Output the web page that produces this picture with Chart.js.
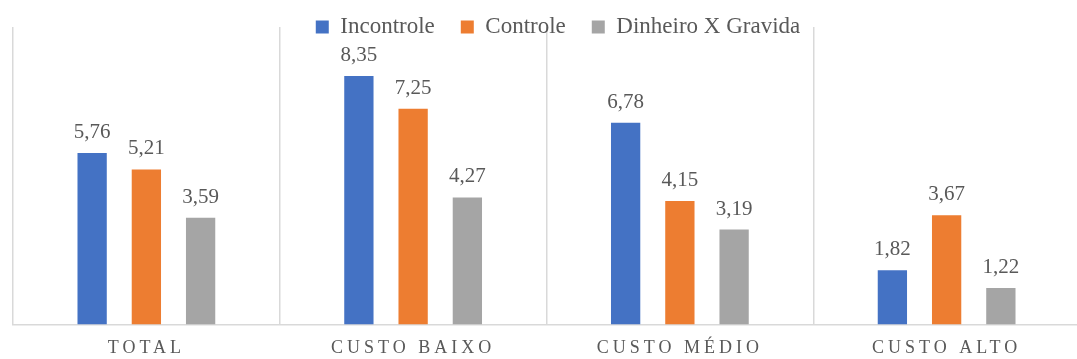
<!DOCTYPE html>
<html><head><meta charset="utf-8">
<script src="https://cdn.jsdelivr.net/npm/chart.js@4/dist/chart.umd.min.js"></script>
<style>
html,body{margin:0;padding:0;background:#fff;overflow:hidden;width:1077px;height:359px}
#wrap{position:absolute;left:0;top:0;width:1103px;height:359px}
</style></head>
<body><div id="wrap"><canvas id="c" width="1103" height="359"></canvas></div>
<script>
const categories = ['TOTAL', 'CUSTO BAIXO', 'CUSTO MÉDIO', 'CUSTO ALTO'];
const seriesNames = ['Incontrole', 'Controle', 'Dinheiro X Gravida'];
const incontrole = [5.76, 8.35, 6.78, 1.82];
const controle = [5.21, 7.25, 4.15, 3.67];
const dinheiroXGravida = [3.59, 4.27, 3.19, 1.22];
const yRange = [0, 10];

const FONT = '"Liberation Serif", "Times New Roman", serif';
const TEXT = '#595959';
const GRID = '#d9d9d9';

const valueLabels = {
  id: 'valueLabels',
  afterDatasetsDraw(chart) {
    const ctx = chart.ctx;
    ctx.save();
    ctx.font = '21px ' + FONT;
    ctx.fillStyle = TEXT;
    ctx.textAlign = 'center';
    ctx.textBaseline = 'alphabetic';
    chart.data.datasets.forEach((ds, i) => {
      chart.getDatasetMeta(i).data.forEach((bar, j) => {
        ctx.fillText(ds.data[j].toFixed(2).replace('.', ','), bar.x, bar.y - 15);
      });
    });
    ctx.restore();
  }
};

const tweaks = {
  id: 'tweaks',
  beforeDraw(chart) {
    const s = chart.scales.x;
    if (s && !s._spaced) {
      const orig = s.drawLabels.bind(s);
      s.drawLabels = function (ca) {
        const c = chart.ctx;
        c.save();
        c.letterSpacing = '4px';
        orig(ca);
        c.restore();
      };
      s._spaced = true;
    }
    const lg = chart.legend;
    if (lg && !lg._noclip) {
      lg.draw = function () { if (this.options.display) this._draw(); };
      lg._noclip = true;
    }
  }
};

new Chart(document.getElementById('c'), {
  type: 'bar',
  data: {
    labels: categories,
    datasets: [
      { label: seriesNames[0], data: incontrole, backgroundColor: '#4472c4', borderWidth: 0 },
      { label: seriesNames[1], data: controle, backgroundColor: '#ed7d31', borderWidth: 0 },
      { label: seriesNames[2], data: dinheiroXGravida, backgroundColor: '#a5a5a5', borderWidth: 0 }
    ]
  },
  options: {
    responsive: false,
    animation: false,
    devicePixelRatio: 1,
    layout: { padding: { left: 13, right: 0, top: -10.5, bottom: -13 } },
    datasets: { bar: { categoryPercentage: 0.61, barPercentage: 0.54 } },
    plugins: {
      legend: {
        position: 'top',
        maxHeight: 37.5,
        labels: {
          boxWidth: 13, boxHeight: 13, padding: 26, color: TEXT,
          font: { family: FONT, size: 23 }
        }
      },
      tooltip: { enabled: false }
    },
    scales: {
      x: {
        grid: { display: true, offset: true, color: GRID, lineWidth: 1.5, drawTicks: false },
        border: { display: true, color: GRID, width: 1.5 },
        ticks: { color: TEXT, font: { family: FONT, size: 18 }, padding: 13, maxRotation: 0, autoSkip: false }
      },
      y: {
        position: 'right',
        min: yRange[0], max: yRange[1],
        grid: { display: false },
        border: { display: false },
        ticks: { display: false },
        afterFit(s) { s.width = 23; }
      }
    }
  },
  plugins: [valueLabels, tweaks]
});
</script>
</body></html>
